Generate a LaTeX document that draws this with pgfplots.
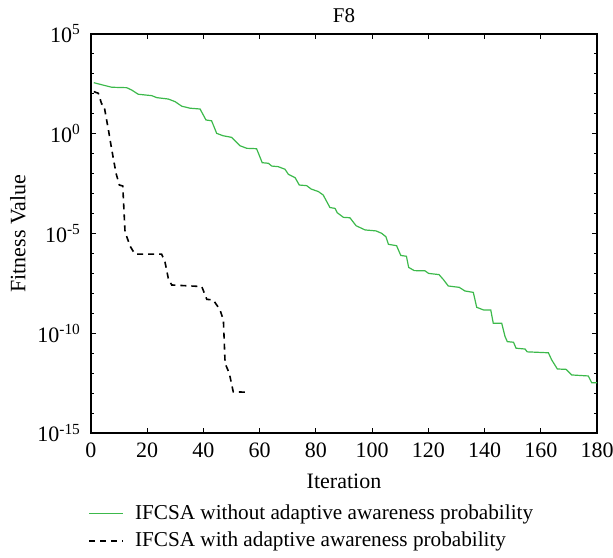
\documentclass[border=0pt]{standalone}
\usepackage{pgfplots}
\pgfplotsset{compat=1.18}
\usepackage{fontspec}
\setmainfont{Liberation Serif}
\definecolor{lgreen}{RGB}{60,185,75}
\begin{document}
\begin{tikzpicture}
\begin{axis}[
  scale only axis,
  width=253pt, height=199.5pt,
  ymode=log,
  xmin=0, xmax=180, ymin=1e-15, ymax=1e5,
  xtick={0,20,...,180},
  ytick={1e-15,1e-10,1e-5,1,1e5},
  yticklabels={10\textsuperscript{-15},10\textsuperscript{-10},10\textsuperscript{-5},10\textsuperscript{0},10\textsuperscript{5}},
  minor ytick={1e-14,1e-13,1e-12,1e-11,1e-9,1e-8,1e-7,1e-6,1e-4,1e-3,1e-2,1e-1,1e1,1e2,1e3,1e4},
  tick align=inside,
  major tick length=2.5pt, minor tick length=1.5pt,
  tick style={black, line width=0.5pt},
  axis line style={line width=0.6pt},
  /pgf/number format/assume math mode=true,
  tick label style={font=\fontsize{11}{13}\selectfont},
  xticklabel style={yshift=-1.5pt},
  yticklabel style={xshift=-1.5pt},
  label style={font=\fontsize{11}{13}\selectfont},
  title style={font=\fontsize{10.5}{12}\selectfont, yshift=-4pt},
  title={F8},
  xlabel={Iteration}, ylabel={Fitness Value},
  xlabel style={yshift=-1pt}, ylabel style={yshift=-1pt},
  legend style={at={(rel axis cs:-0.006,-0.168)}, anchor=north west, draw=none, fill=none,
    font=\fontsize{10.6}{12}\selectfont, row sep=1pt, inner sep=0pt, column sep=3.5pt,
    legend cell align=left},
  legend cell align=left,
]
\addplot[lgreen, line width=0.6pt] coordinates {
(1,3.63e2) (4,2.82e2) (7.4,2.14e2) (12.7,2.04e2) (14.5,1.55e2) (16.8,9.55e1)
(21.6,8.13e1) (23.4,6.46e1) (27.5,5.50e1) (29.9,4.07e1) (32.3,2.40e1) (35.2,1.91e1)
(38.8,1.74e1) (40.9,4.90) (42.9,4.47) (44.7,1.05) (47,7.94e-1) (50,6.61e-1)
(53,2.51e-1) (55.4,1.86e-1) (58.9,1.78e-1) (60.9,3.55e-2) (63.1,3.31e-2) (64.3,2.40e-2)
(66.6,2.24e-2) (69,1.66e-2) (70.2,9.33e-3) (72.6,6.31e-3) (74.1,2.69e-3) (76.7,2.51e-3)
(78.3,1.70e-3) (80.9,1.26e-3) (82.6,8.51e-4) (85,2.00e-4) (86.8,1.82e-4) (87.6,1.10e-4)
(89.8,6.46e-5) (92.1,6.17e-5) (94.3,2.45e-5) (97.5,1.51e-5) (101.4,1.35e-5) (103.4,1.02e-5)
(104.9,6.92e-6) (105.8,2.88e-6) (108.7,2.45e-6) (110.2,7.94e-7) (112.2,7.24e-7) (113,2.00e-7)
(115,1.38e-7) (118.8,1.35e-7) (120.1,1.00e-7) (123.8,8.71e-8) (125.3,5.01e-8) (127.1,2.34e-8)
(131,2.00e-8) (133,1.32e-8) (136,1.12e-8) (137.2,2.00e-9) (139.6,1.48e-9) (142.2,1.48e-9)
(143.1,3.16e-10) (146.1,3.16e-10) (147.3,6.76e-11) (148.1,3.80e-11) (150.3,3.55e-11) (151.2,1.78e-11)
(154.4,1.62e-11) (155.2,1.17e-11) (162.7,1.05e-11) (163.9,4.57e-12) (165.9,1.62e-12) (169,1.55e-12)
(171,8.13e-13) (176.9,7.24e-13) (178.1,3.31e-13) (180,3.31e-13)
};
\addlegendentry{IFCSA without adaptive awareness probability}
\addplot[black, line width=0.8pt, dash pattern=on 3pt off 2.5pt] coordinates {
(1,1.29e2) (2.6,1.07e2) (3.8,3.09e1) (4.6,2.75e1) (6.2,1.55) (7.4,1.55e-1)
(8.9,1.05e-2) (10.1,2.69e-3) (11.3,2.40e-3) (12.1,1.23e-5) (13.9,2.34e-6) (15.6,9.33e-7)
(25.1,9.33e-7) (26.3,3.89e-7) (27.5,5.62e-8) (28.7,2.63e-8) (39.4,2.19e-8) (41.2,5.01e-9)
(43.5,4.68e-9) (45.9,1.48e-9) (47.1,4.57e-10) (47.7,3.09e-12) (49.2,9.77e-13) (50.6,1.17e-13)
(56,1.10e-13)
};
\addlegendentry{IFCSA with adaptive awareness probability}
\end{axis}
\pgfresetboundingbox
\path (current axis.south west) ++(-45.5pt,-62pt) coordinate (bl);
\path (current axis.north east) ++(8pt,17pt) coordinate (tr);
\path (bl) rectangle (tr);
\end{tikzpicture}
\end{document}
